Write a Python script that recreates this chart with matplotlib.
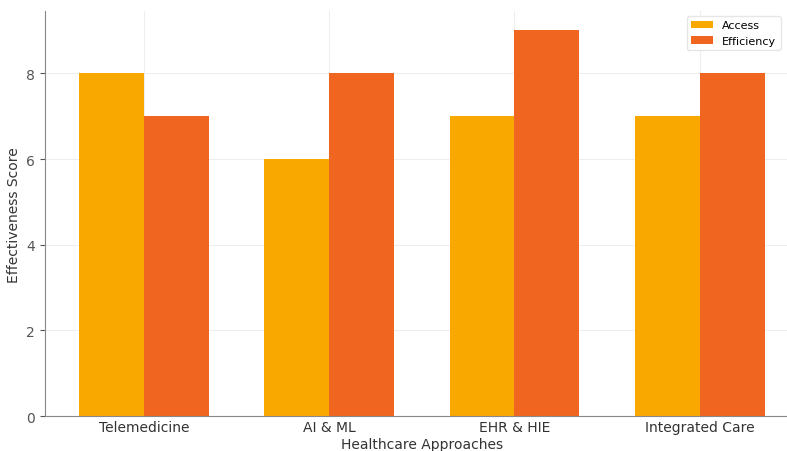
import numpy as np
import matplotlib.pyplot as plt

# Scores for each healthcare approach
approaches = ["Telemedicine", "AI & ML", "EHR & HIE", "Integrated Care"]
access = [8, 6, 7, 7]
efficiency = [7, 8, 9, 8]

x = np.arange(len(approaches))
width = 0.35

fig = plt.figure(figsize=(7.87, 4.52), dpi=100)
ax = fig.add_axes([0.057, 0.077, 0.958, 0.896])

ax.bar(x - width / 2, access, width, label="Access", color="#F9A800", zorder=2)
ax.bar(x + width / 2, efficiency, width, label="Efficiency", color="#F0651F", zorder=2)

ax.set_xticks(x)
ax.set_xticklabels(approaches, fontsize=10, color="#333333")
ax.tick_params(axis="y", labelsize=10, colors="#555555")
ax.tick_params(axis="x", length=0, pad=3)
ax.set_xlabel("Healthcare Approaches", fontsize=10, color="#333333", labelpad=2)
ax.set_ylabel("Effectiveness Score", fontsize=10, color="#333333")

ax.grid(True, color="#eeeeee", linewidth=0.8, zorder=0)
ax.set_axisbelow(True)
for side in ["top", "right"]:
    ax.spines[side].set_visible(False)
for side in ["left", "bottom"]:
    ax.spines[side].set_color("#888888")

# keep the legend inside the figure's right edge
ax.legend(loc="upper right", bbox_to_anchor=(0.999, 0.975),
          bbox_transform=fig.transFigure, fontsize=8,
          framealpha=1, edgecolor="#e6e6e6")

fig.savefig("out.png", dpi=100)
